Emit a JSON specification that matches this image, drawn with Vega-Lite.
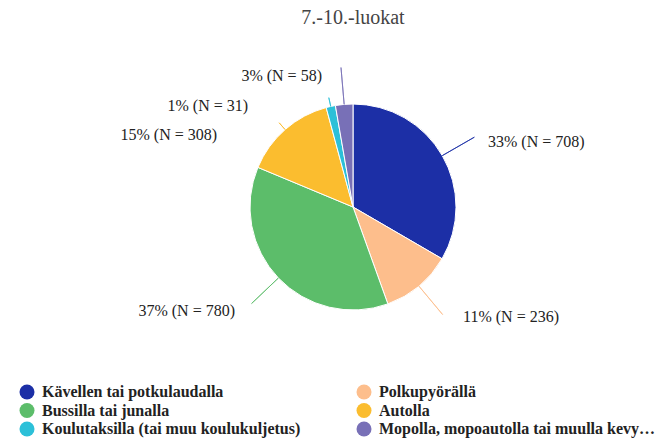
{
  "$schema": "https://vega.github.io/schema/vega-lite/v6.json",
  "width": 632,
  "height": 414,
  "autosize": {"type": "none"},
  "padding": {"left": 37, "top": 0, "right": 0, "bottom": 26},
  "background": "white",
  "title": {"text": "7.-10.-luokat", "anchor": "middle", "orient": "top", "offset": 0, "dy": 28, "font": "Liberation Serif", "fontSize": 20, "fontWeight": "normal", "color": "#444"},
  "data": {"values": [
    {"cat": "Kävellen tai potkulaudalla", "n": 708, "rank": 1, "label": "33% (N = 708)"},
    {"cat": "Polkupyörällä", "n": 236, "rank": 2, "label": "11% (N = 236)"},
    {"cat": "Bussilla tai junalla", "n": 780, "rank": 3, "label": "37% (N = 780)"},
    {"cat": "Autolla", "n": 308, "rank": 4, "label": "15% (N = 308)"},
    {"cat": "Koulutaksilla (tai muu koulukuljetus)", "n": 31, "rank": 5, "label": "1% (N = 31)"},
    {"cat": "Mopolla, mopoautolla tai muulla kevyellä moottoriajoneuvolla", "n": 58, "rank": 6, "label": "3% (N = 58)"}
  ]},
  "config": {"view": {"stroke": null}, "text": {"font": "Liberation Serif"}},
  "layer": [
    {
      "mark": {"type": "arc", "outerRadius": 103, "stroke": "white", "strokeWidth": 1},
      "encoding": {
        "theta": {"field": "n", "type": "quantitative", "stack": true},
        "order": {"field": "rank", "type": "quantitative"},
        "color": {
          "field": "cat", "type": "nominal",
          "scale": {
            "domain": ["Kävellen tai potkulaudalla", "Polkupyörällä", "Bussilla tai junalla", "Autolla", "Koulutaksilla (tai muu koulukuljetus)", "Mopolla, mopoautolla tai muulla kevyellä moottoriajoneuvolla"],
            "range": ["#1c2fa6", "#fdbe8c", "#5cbd6a", "#fbbd2f", "#2cc0d8", "#7870b7"]
          },
          "legend": {
            "title": null, "orient": "none", "legendX": -18, "legendY": 384, "columns": 2, "direction": "horizontal",
            "symbolType": "circle", "symbolSize": 225, "symbolStrokeWidth": 0,
            "labelFont": "Liberation Serif", "labelFontSize": 16, "labelFontWeight": "bold", "labelColor": "#222",
            "labelOffset": 7, "labelLimit": 280, "rowPadding": 2.5, "columnPadding": 55
          }
        }
      }
    },
    {
      "transform": [
        {"window": [{"op": "sum", "field": "n", "as": "cum"}], "sort": [{"field": "rank"}], "frame": [null, 0]},
        {"calculate": "datum.cum - datum.n / 2", "as": "mid"},
        {"filter": "datum.rank != 4 && datum.rank != 5"}
      ],
      "mark": {"type": "arc", "innerRadius": 103, "outerRadius": 140, "filled": false, "strokeWidth": 1, "opacity": 0.8},
      "encoding": {
        "theta": {"field": "mid", "type": "quantitative", "stack": false},
        "theta2": {"field": "mid"},
        "color": {"field": "cat", "type": "nominal", "legend": null}
      }
    },
    {
      "transform": [
        {"window": [{"op": "sum", "field": "n", "as": "cum"}], "sort": [{"field": "rank"}], "frame": [null, 0]},
        {"calculate": "datum.cum - datum.n / 2", "as": "mid"},
        {"filter": "datum.rank == 4 || datum.rank == 5"}
      ],
      "mark": {"type": "arc", "innerRadius": 103, "outerRadius": 112, "filled": false, "strokeWidth": 1, "opacity": 0.8},
      "encoding": {
        "theta": {"field": "mid", "type": "quantitative", "stack": false},
        "theta2": {"field": "mid"},
        "color": {"field": "cat", "type": "nominal", "legend": null}
      }
    },
    {
      "mark": {"type": "text", "align": "left", "baseline": "middle", "dx": 45.7, "dy": -13.6, "fontSize": 16, "fill": "#222"},
      "encoding": {
        "theta": {"field": "n", "type": "quantitative", "stack": true},
        "order": {"field": "rank", "type": "quantitative"},
        "radius": {"value": 103},
        "text": {"condition": {"test": "datum.rank == 1", "field": "label"}, "value": ""}
      }
    },
    {
      "mark": {"type": "text", "align": "left", "baseline": "middle", "dx": 44.1, "dy": 30.9, "fontSize": 16, "fill": "#222"},
      "encoding": {
        "theta": {"field": "n", "type": "quantitative", "stack": true},
        "order": {"field": "rank", "type": "quantitative"},
        "radius": {"value": 103},
        "text": {"condition": {"test": "datum.rank == 2", "field": "label"}, "value": ""}
      }
    },
    {
      "mark": {"type": "text", "align": "right", "baseline": "middle", "dx": -43.4, "dy": 32.9, "fontSize": 16, "fill": "#222"},
      "encoding": {
        "theta": {"field": "n", "type": "quantitative", "stack": true},
        "order": {"field": "rank", "type": "quantitative"},
        "radius": {"value": 103},
        "text": {"condition": {"test": "datum.rank == 3", "field": "label"}, "value": ""}
      }
    },
    {
      "mark": {"type": "text", "align": "right", "baseline": "middle", "dx": -68, "dy": 5.4, "fontSize": 16, "fill": "#222"},
      "encoding": {
        "theta": {"field": "n", "type": "quantitative", "stack": true},
        "order": {"field": "rank", "type": "quantitative"},
        "radius": {"value": 103},
        "text": {"condition": {"test": "datum.rank == 4", "field": "label"}, "value": ""}
      }
    },
    {
      "mark": {"type": "text", "align": "right", "baseline": "middle", "dx": -82.7, "dy": -0.8, "fontSize": 16, "fill": "#222"},
      "encoding": {
        "theta": {"field": "n", "type": "quantitative", "stack": true},
        "order": {"field": "rank", "type": "quantitative"},
        "radius": {"value": 103},
        "text": {"condition": {"test": "datum.rank == 5", "field": "label"}, "value": ""}
      }
    },
    {
      "mark": {"type": "text", "align": "right", "baseline": "middle", "dx": -22.2, "dy": -28.7, "fontSize": 16, "fill": "#222"},
      "encoding": {
        "theta": {"field": "n", "type": "quantitative", "stack": true},
        "order": {"field": "rank", "type": "quantitative"},
        "radius": {"value": 103},
        "text": {"condition": {"test": "datum.rank == 6", "field": "label"}, "value": ""}
      }
    }
  ]
}
